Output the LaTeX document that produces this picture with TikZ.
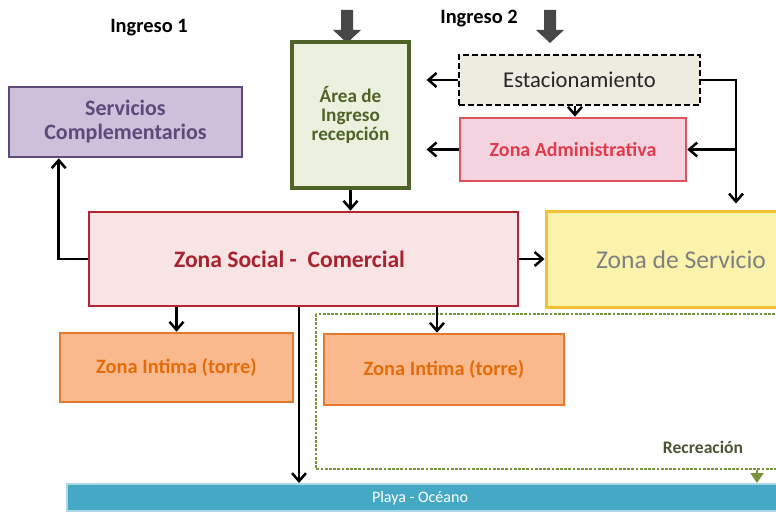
\documentclass[tikz,border=0pt]{standalone}
\usepackage{fontspec}
\setmainfont{Carlito}
\usepackage{tikz}
\usetikzlibrary{arrows.meta}
\usetikzlibrary{calc}
% colours of the zones
\definecolor{servF}{HTML}{CCC0DA}
\definecolor{servB}{HTML}{5F497A}
\definecolor{areaF}{HTML}{EBF1DE}
\definecolor{areaB}{HTML}{4F6228}
\definecolor{estF}{HTML}{EEECE1}
\definecolor{admF}{HTML}{F4D3E1}
\definecolor{admB}{HTML}{E0535E}
\definecolor{admT}{HTML}{E03A4C}
\definecolor{socF}{HTML}{F8E3E5}
\definecolor{socB}{HTML}{B5242F}
\definecolor{socT}{HTML}{A8232F}
\definecolor{srvF}{HTML}{FBF2AB}
\definecolor{srvB}{HTML}{F3C232}
\definecolor{intF}{HTML}{FAB98C}
\definecolor{intB}{HTML}{E8782E}
\definecolor{intT}{HTML}{E46C0A}
\definecolor{recG}{HTML}{77933C}
\definecolor{recT}{HTML}{4A5535}
\definecolor{playaF}{HTML}{45A9C6}
\newcommand{\ingarrow}[1]{%
  \fill[black!72] (#1-6,10) -- (#1+6,10) -- (#1+6,30) -- (#1+14,30) -- (#1,43)
    -- (#1-14,30) -- (#1-6,30) -- cycle;}
\tikzset{
  zone/.style={draw, line width=1.3pt, inner sep=2pt},
  conn/.style={-{Straight Barb[length=4pt,width=7pt]}, line width=1.25pt},
  ingtxt/.style={font=\bfseries\fontsize{10.2}{12}\selectfont}
}

\begin{document}
\begin{tikzpicture}[x=0.5pt,y=-0.5pt]
\useasboundingbox (0,0) rectangle (776,513);
% entrances
\node[ingtxt] (ing1) at (149,28) {Ingreso 1};
\node[ingtxt] (ing2) at (479,19) {Ingreso 2};
\ingarrow{347}
\ingarrow{550}
% recreation area
\draw[recG, line width=1.4pt, dash pattern=on 1.4pt off 0.7pt] (316,314) rectangle (800,469);
\node[text=recT, font=\bfseries\fontsize{8.8}{10}\selectfont] (rectxt) at (703,447) {Recreación};
% beach
\node[fill=playaF, draw=playaF!45!white, line width=1pt, minimum width=361.5pt, minimum height=13.5pt] (playa) at (428.5,497.5) {};
\node[text=white, font=\fontsize{8}{10}\selectfont] (playatxt) at (420,498) {Playa - Océano};
% zones
\node[zone, draw=servB, fill=servF, text=servB, minimum width=116.5pt, minimum height=35pt,
  align=center, font=\bfseries\fontsize{11}{12}\selectfont] (serv) at (125.5,122) {Servicios\\Complementarios};
\node[zone, line width=1.6pt, draw=areaB, fill=areaF, text=areaB, minimum width=58.5pt, minimum height=73pt,
  align=center, font=\bfseries\fontsize{9.6}{9.6}\selectfont] (area) at (350.5,115) {Área de\\Ingreso\\recepción};
\node[zone, line width=1pt, dash pattern=on 3pt off 1.5pt, fill=estF, text=black!85, minimum width=120.5pt, minimum height=25pt,
  font=\fontsize{11.3}{13}\selectfont] (estac) at (579.5,80) {Estacionamiento};
\node[zone, draw=admB, fill=admF, text=admT, minimum width=113pt, minimum height=31.5pt,
  font=\bfseries\fontsize{10}{11}\selectfont] (admin) at (573,149.5) {Zona Administrativa};
\node[zone, draw=socB, fill=socF, text=socT, minimum width=214.5pt, minimum height=47pt,
  font=\bfseries\fontsize{11.8}{14}\selectfont] (social) at (303.5,259) {Zona Social -\ \ Comercial\hspace*{14pt}};
\node[zone, line width=1.5pt, draw=srvB, fill=srvF, text=black!50, minimum width=135pt, minimum height=47.5pt,
  font=\fontsize{12.8}{15}\selectfont] (servicio) at (681,259.5) {Zona de Servicio};
\node[zone, draw=intB, fill=intF, text=intT, minimum width=116.5pt, minimum height=34.5pt,
  font=\bfseries\fontsize{10.2}{12}\selectfont] (int1) at (176.5,367.5) {Zona Intima (torre)};
\node[zone, draw=intB, fill=intF, text=intT, minimum width=120pt, minimum height=35.5pt,
  font=\bfseries\fontsize{10.2}{12}\selectfont] (int2) at (444,369.5) {Zona Intima (torre)};
% connectors
\coordinate (jn) at (736,80);
\draw[conn, shorten >=8pt] (estac.west) -- (estac.west -| area.east);
\draw[conn, shorten >=8pt] (admin.west) -- (admin.west -| area.east);
\draw[conn] ([xshift=1pt]admin.north |- estac.south) -- ([xshift=1pt]admin.north);
\draw[conn, shorten >=3.5pt] (estac.east) -- (jn) -- (jn |- servicio.north);
\draw[conn] (jn |- admin.east) -- (admin.east);
\draw[conn] (area.south) -- (area.south |- social.north);
\draw[conn] (social.west) -| ([xshift=25.5pt]serv.south west);
\draw[conn] (social.east) -- (social.east -| servicio.west);
\draw[conn] (int1.north |- social.south) -- (int1.north);
\draw[conn] ([xshift=-3.5pt]int2.north |- social.south) -- ([xshift=-3.5pt]int2.north);
\draw[conn] ([xshift=-2.25pt]social.south) -- ([xshift=-2.25pt]social.south |- playa.north);
\draw[recG, -{Triangle[length=5pt,width=6.5pt]}, line width=1pt] (757,470) -- (757,483);
\end{tikzpicture}
\end{document}
